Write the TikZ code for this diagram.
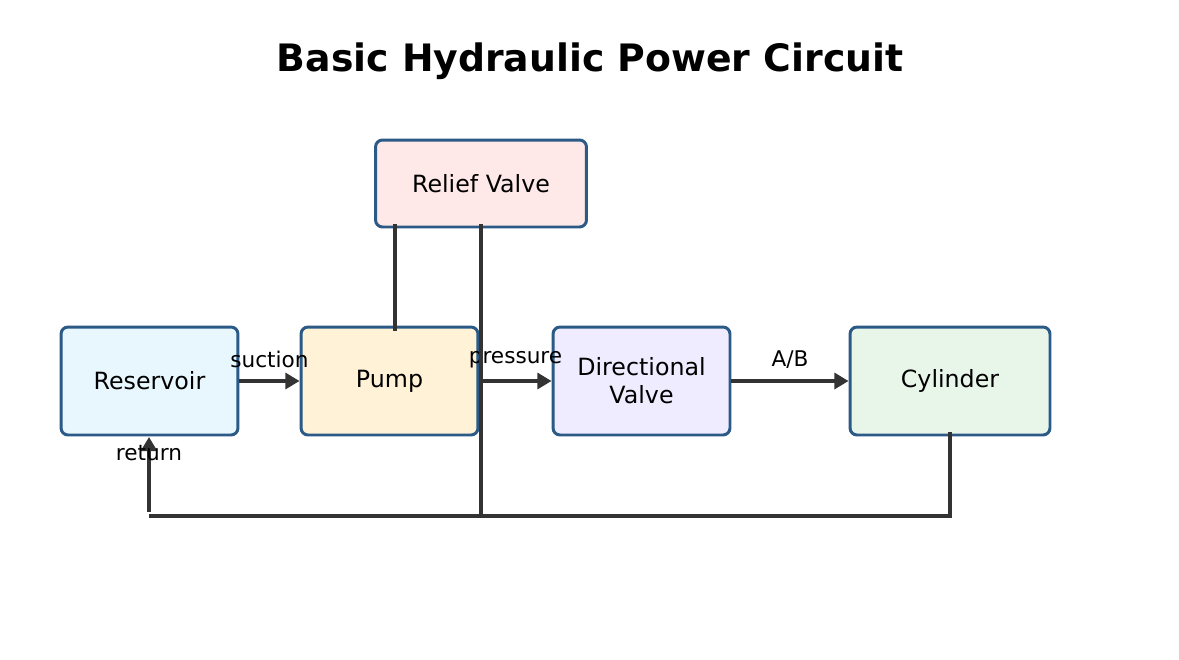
\documentclass[tikz,border=0pt]{standalone}
\usepackage{fontspec}
\setmainfont{DejaVu Sans}
\usetikzlibrary{arrows.meta, positioning}
\definecolor{edge}{RGB}{44, 90, 135}
\definecolor{pipe}{RGB}{51, 51, 51}
\definecolor{resfill}{RGB}{232, 246, 254}
\definecolor{pumpfill}{RGB}{255, 242, 214}
\definecolor{dirfill}{RGB}{240, 236, 255}
\definecolor{cylfill}{RGB}{232, 246, 234}
\definecolor{relfill}{RGB}{255, 232, 232}
\tikzset{
    block/.style={rectangle, rounded corners=4pt, minimum width=3.54cm, minimum height=2.16cm, align=center, draw=edge, line width=1.7pt, font=\fontsize{13.5}{16}\selectfont},
    line/.style={line width=2.4pt, pipe},
    arrow/.style={line width=1.9pt, pipe, -{Triangle[length=8pt, width=9pt]}},
    tag/.style={text=black, font=\fontsize{12.3}{14}\selectfont}
}
\begin{document}
\begin{tikzpicture}[x=0.02cm, y=-0.02cm]
    \useasboundingbox[fill=white] (0,0) rectangle (1179,659);
    % Title
    \node[font=\bfseries\fontsize{21.5}{24}\selectfont] (title) at (590,61) {Basic Hydraulic Power Circuit};

    % Components
    \node[block, minimum width=4.22cm, minimum height=1.74cm, fill=relfill] (relief) at (481,183.5) {Relief Valve};
    \node[block, fill=resfill] (res) at (149.5,381) {Reservoir};
    \node[block, fill=pumpfill] (pump) at (389.5,381) {Pump};
    \node[block, fill=dirfill] (dir) at (641.5,381) {Directional\\Valve};
    \node[block, minimum width=4cm, fill=cylfill] (cyl) at (950,381) {Cylinder};

    % Pipe corners
    \coordinate (rv1) at (395,224);
    \coordinate (pt) at (395,331);
    \coordinate (rv2) at (481,224);
    \coordinate (tee) at (481,516);
    \coordinate (cb) at (950,432);
    \coordinate (lb) at (149,516);
    \coordinate (rs) at (149,512);
    \coordinate (rt) at (149,437);

    % Flow arrows
    \draw[arrow] (res) -- (pump) node[tag, midway, above=3pt] {suction};
    \draw[arrow] (pump) -- (dir) node[tag, midway, above=3pt] {pressure};
    \draw[arrow] (dir) -- (cyl) node[tag, midway, above=3pt] {A/B};

    % Return and relief lines
    \draw[line] (rv1) -- (pt);
    \draw[line] (rv2) -- (tee);
    \draw[line] (cb) |- (lb);
    \draw[arrow] (rs) -- (rt);
    \node[tag] (ret) at (149,453) {return};
\end{tikzpicture}
\end{document}
